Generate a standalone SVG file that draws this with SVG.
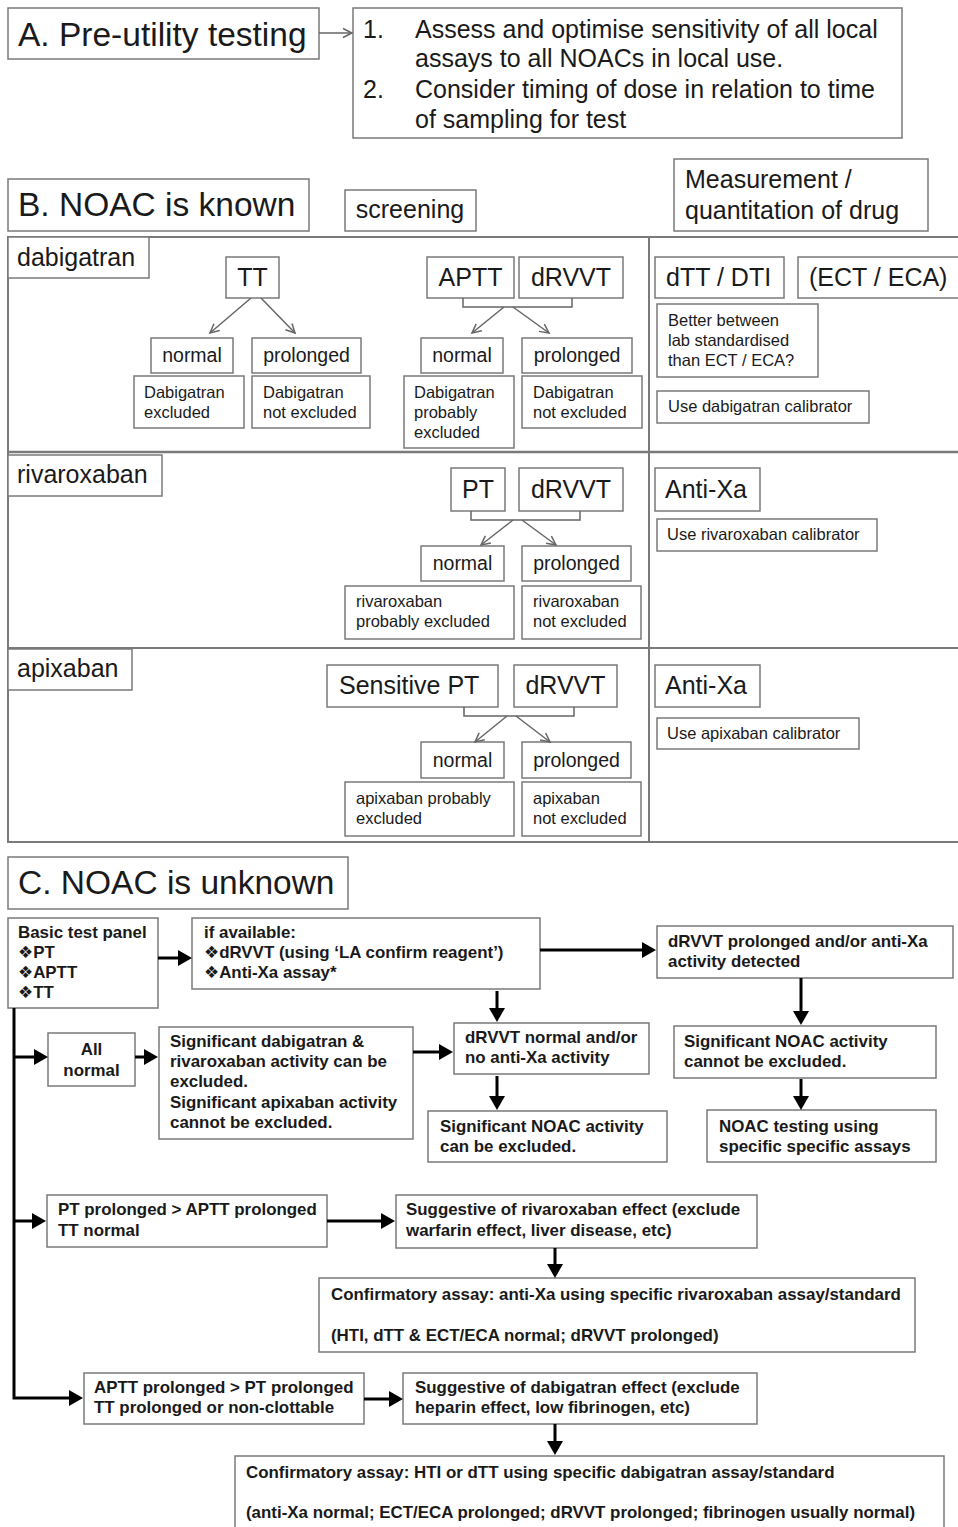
<svg xmlns="http://www.w3.org/2000/svg" width="958" height="1527" viewBox="0 0 958 1527">
<style>
text{font-family:"Liberation Sans","DejaVu Sans",Arial,sans-serif;fill:#1a1a1a}
.bx{fill:#fff;stroke:#7a7a7a;stroke-width:1.5}
.h1{font-size:33.5px}
.h2{font-size:25px}
.t19{font-size:19.5px}
.s{font-size:16.5px}
.b{font-size:16.9px;font-weight:bold}
.c{text-anchor:middle}
.dv{stroke:#7a7a7a;stroke-width:2;fill:none}
.thin{stroke:#666;stroke-width:1.5;fill:none;marker-end:url(#oa)}
.brk{stroke:#666;stroke-width:1.5;fill:none}
.ta{stroke:#000;stroke-width:3;fill:none;marker-end:url(#fa)}
</style>
<defs>
<marker id="fa" markerUnits="userSpaceOnUse" markerWidth="16" markerHeight="18" refX="3" refY="8" orient="auto" overflow="visible"><path d="M0,0 L14,8 L0,16 z" fill="#000"/></marker>
<marker id="oa" markerUnits="userSpaceOnUse" markerWidth="12" markerHeight="12" refX="9" refY="4.5" orient="auto" overflow="visible"><path d="M0,0 L9,4.5 L0,9" fill="none" stroke="#666" stroke-width="1.5"/></marker>
</defs>

<!-- Section A -->
<g id="a-title"><rect class="bx" x="8" y="8" width="311" height="51"/><text class="h1" x="18" y="46">A. Pre-utility testing</text></g>
<g id="a-steps"><rect class="bx" x="353" y="8" width="549" height="130"/>
<text class="h2" x="363" y="38">1.</text><text class="h2" x="415" y="38">Assess and optimise sensitivity of all local</text>
<text class="h2" x="415" y="67">assays to all NOACs in local use.</text>
<text class="h2" x="363" y="98">2.</text><text class="h2" x="415" y="98">Consider timing of dose in relation to time</text>
<text class="h2" x="415" y="128">of sampling for test</text></g>

<!-- Section B frame -->
<g id="b-frame">
<path class="dv" d="M958,237 H8 V842 H958"/>
<path class="dv" d="M8,452 H958" style="stroke-width:2.5"/>
<path class="dv" d="M8,648 H958"/>
<path class="dv" d="M649,237 V842"/>
</g>
<g id="b-title"><rect class="bx" x="8" y="179" width="301" height="52"/><text class="h1" x="18" y="216">B. NOAC is known</text></g>
<g id="b-screening"><rect class="bx" x="345" y="190" width="131" height="41"/><text class="h2 c" x="410" y="218">screening</text></g>
<g id="b-measure"><rect class="bx" x="674" y="159" width="254" height="72"/><text class="h2" x="685" y="188">Measurement /</text><text class="h2" x="685" y="219">quantitation of drug</text></g>

<!-- dabigatran -->
<g id="dab-label"><rect class="bx" x="8" y="237" width="141" height="41"/><text class="h2" x="17" y="266">dabigatran</text></g>
<g id="dab-tt"><rect class="bx" x="226" y="257" width="53" height="41"/><text class="h2 c" x="252.5" y="286">TT</text></g>
<g id="dab-tt-normal"><rect class="bx" x="151" y="338" width="82" height="35"/><text class="t19 c" x="192" y="362">normal</text></g>
<g id="dab-tt-prolonged"><rect class="bx" x="252" y="338" width="109" height="35"/><text class="t19 c" x="306.5" y="362">prolonged</text></g>
<g id="dab-tt-excl"><rect class="bx" x="134" y="376" width="110" height="52"/><text class="s" x="144" y="398">Dabigatran</text><text class="s" x="144" y="418">excluded</text></g>
<g id="dab-tt-notexcl"><rect class="bx" x="252" y="376" width="118" height="52"/><text class="s" x="263" y="398">Dabigatran</text><text class="s" x="263" y="418">not excluded</text></g>
<g id="dab-aptt"><rect class="bx" x="427" y="257" width="87" height="41"/><text class="h2 c" x="470.5" y="286">APTT</text></g>
<g id="dab-drvvt"><rect class="bx" x="519" y="257" width="104" height="41"/><text class="h2 c" x="571" y="286">dRVVT</text></g>
<g id="dab-a-normal"><rect class="bx" x="421" y="338" width="82" height="35"/><text class="t19 c" x="462" y="362">normal</text></g>
<g id="dab-a-prolonged"><rect class="bx" x="522" y="338" width="110" height="35"/><text class="t19 c" x="577" y="362">prolonged</text></g>
<g id="dab-a-probexcl"><rect class="bx" x="404" y="376" width="110" height="72"/><text class="s" x="414" y="398">Dabigatran</text><text class="s" x="414" y="418">probably</text><text class="s" x="414" y="438">excluded</text></g>
<g id="dab-a-notexcl"><rect class="bx" x="522" y="376" width="120" height="52"/><text class="s" x="533" y="398">Dabigatran</text><text class="s" x="533" y="418">not excluded</text></g>
<g id="dab-dtt"><rect class="bx" x="655" y="257" width="129" height="41"/><text class="h2" x="666" y="286">dTT / DTI</text></g>
<g id="dab-ect"><rect class="bx" x="798" y="257" width="170" height="41"/><text class="h2" x="809" y="286">(ECT / ECA)</text></g>
<g id="dab-better"><rect class="bx" x="657" y="304" width="161" height="73"/><text class="s" x="668" y="326">Better between</text><text class="s" x="668" y="346">lab standardised</text><text class="s" x="668" y="366">than ECT / ECA?</text></g>
<g id="dab-cal"><rect class="bx" x="657" y="391" width="212" height="32"/><text class="s" x="668" y="412">Use dabigatran calibrator</text></g>

<!-- rivaroxaban -->
<g id="riv-label"><rect class="bx" x="8" y="455" width="154" height="41"/><text class="h2" x="17" y="483">rivaroxaban</text></g>
<g id="riv-pt"><rect class="bx" x="451" y="468" width="54" height="43"/><text class="h2 c" x="478" y="498">PT</text></g>
<g id="riv-drvvt"><rect class="bx" x="519" y="468" width="104" height="43"/><text class="h2 c" x="571" y="498">dRVVT</text></g>
<g id="riv-normal"><rect class="bx" x="421" y="546" width="83" height="35"/><text class="t19 c" x="462.5" y="570">normal</text></g>
<g id="riv-prolonged"><rect class="bx" x="522" y="546" width="109" height="35"/><text class="t19 c" x="576.5" y="570">prolonged</text></g>
<g id="riv-probexcl"><rect class="bx" x="345" y="586" width="169" height="53"/><text class="s" x="356" y="607">rivaroxaban</text><text class="s" x="356" y="627">probably excluded</text></g>
<g id="riv-notexcl"><rect class="bx" x="522" y="586" width="119" height="53"/><text class="s" x="533" y="607">rivaroxaban</text><text class="s" x="533" y="627">not excluded</text></g>
<g id="riv-antixa"><rect class="bx" x="655" y="468" width="105" height="43"/><text class="h2" x="665" y="498">Anti-Xa</text></g>
<g id="riv-cal"><rect class="bx" x="657" y="519" width="220" height="32"/><text class="s" x="667" y="540">Use rivaroxaban calibrator</text></g>

<!-- apixaban -->
<g id="api-label"><rect class="bx" x="8" y="649" width="124" height="41"/><text class="h2" x="17" y="677">apixaban</text></g>
<g id="api-pt"><rect class="bx" x="327" y="665" width="171" height="42"/><text class="h2" x="339" y="694">Sensitive PT</text></g>
<g id="api-drvvt"><rect class="bx" x="514" y="665" width="103" height="42"/><text class="h2 c" x="565.5" y="694">dRVVT</text></g>
<g id="api-normal"><rect class="bx" x="421" y="742" width="83" height="36"/><text class="t19 c" x="462.5" y="767">normal</text></g>
<g id="api-prolonged"><rect class="bx" x="522" y="742" width="109" height="36"/><text class="t19 c" x="576.5" y="767">prolonged</text></g>
<g id="api-probexcl"><rect class="bx" x="345" y="782" width="169" height="54"/><text class="s" x="356" y="804">apixaban probably</text><text class="s" x="356" y="824">excluded</text></g>
<g id="api-notexcl"><rect class="bx" x="522" y="782" width="119" height="54"/><text class="s" x="533" y="804">apixaban</text><text class="s" x="533" y="824">not excluded</text></g>
<g id="api-antixa"><rect class="bx" x="655" y="665" width="105" height="42"/><text class="h2" x="665" y="694">Anti-Xa</text></g>
<g id="api-cal"><rect class="bx" x="657" y="718" width="202" height="31"/><text class="s" x="667" y="739">Use apixaban calibrator</text></g>

<!-- Section C -->
<g id="c-title"><rect class="bx" x="8" y="857" width="340" height="52"/><text class="h1" x="18" y="894">C. NOAC is unknown</text></g>
<g id="c-basic"><rect class="bx" x="8" y="918" width="150" height="90"/><text class="b" x="18" y="938">Basic test panel</text><text class="b" x="18" y="958">❖PT</text><text class="b" x="18" y="978">❖APTT</text><text class="b" x="18" y="998">❖TT</text></g>
<g id="c-ifavail"><rect class="bx" x="192" y="918" width="348" height="71"/><text class="b" x="204" y="938">if available:</text><text class="b" x="204" y="958">❖dRVVT (using ‘LA confirm reagent’)</text><text class="b" x="204" y="978">❖Anti-Xa assay*</text></g>
<g id="c-drvvtprol"><rect class="bx" x="657" y="926" width="296" height="52"/><text class="b" x="668" y="947">dRVVT prolonged and/or anti-Xa</text><text class="b" x="668" y="967">activity detected</text></g>
<g id="c-allnormal"><rect class="bx" x="48" y="1033" width="87" height="53"/><text class="b c" x="91.5" y="1055">All</text><text class="b c" x="91.5" y="1076">normal</text></g>
<g id="c-sigdab"><rect class="bx" x="159" y="1027" width="254" height="112"/><text class="b" x="170" y="1047">Significant dabigatran &amp;</text><text class="b" x="170" y="1067">rivaroxaban activity can be</text><text class="b" x="170" y="1087">excluded.</text><text class="b" x="170" y="1108">Significant apixaban activity</text><text class="b" x="170" y="1128">cannot be excluded.</text></g>
<g id="c-drvvtnorm"><rect class="bx" x="454" y="1023" width="195" height="51"/><text class="b" x="465" y="1043">dRVVT normal and/or</text><text class="b" x="465" y="1063">no anti-Xa activity</text></g>
<g id="c-sigcan"><rect class="bx" x="428" y="1111" width="239" height="51"/><text class="b" x="440" y="1132">Significant NOAC activity</text><text class="b" x="440" y="1152">can be excluded.</text></g>
<g id="c-sigcannot"><rect class="bx" x="674" y="1026" width="262" height="52"/><text class="b" x="684" y="1047">Significant NOAC activity</text><text class="b" x="684" y="1067">cannot be excluded.</text></g>
<g id="c-noactest"><rect class="bx" x="707" y="1110" width="229" height="52"/><text class="b" x="719" y="1132">NOAC testing using</text><text class="b" x="719" y="1152">specific specific assays</text></g>
<g id="c-ptprol"><rect class="bx" x="47" y="1195" width="280" height="52"/><text class="b" x="58" y="1215">PT prolonged &gt; APTT prolonged</text><text class="b" x="58" y="1236">TT normal</text></g>
<g id="c-sugriv"><rect class="bx" x="396" y="1195" width="361" height="53"/><text class="b" x="406" y="1215">Suggestive of rivaroxaban effect (exclude</text><text class="b" x="406" y="1236">warfarin effect, liver disease, etc)</text></g>
<g id="c-confriv"><rect class="bx" x="319" y="1278" width="596" height="74"/><text class="b" x="331" y="1300">Confirmatory assay: anti-Xa using specific rivaroxaban assay/standard</text><text class="b" x="331" y="1341">(HTI, dTT &amp; ECT/ECA normal; dRVVT prolonged)</text></g>
<g id="c-apttprol"><rect class="bx" x="84" y="1373" width="280" height="51"/><text class="b" x="94" y="1393">APTT prolonged &gt; PT prolonged</text><text class="b" x="94" y="1413">TT prolonged or non-clottable</text></g>
<g id="c-sugdab"><rect class="bx" x="403" y="1373" width="354" height="51"/><text class="b" x="415" y="1393">Suggestive of dabigatran effect (exclude</text><text class="b" x="415" y="1413">heparin effect, low fibrinogen, etc)</text></g>
<g id="c-confdab"><rect class="bx" x="235" y="1456" width="709" height="90"/><text class="b" x="246" y="1478">Confirmatory assay: HTI or dTT using specific dabigatran assay/standard</text><text class="b" x="246" y="1518">(anti-Xa normal; ECT/ECA prolonged; dRVVT prolonged; fibrinogen usually normal)</text></g>

<!-- connectors -->
<g id="connectors">
<line class="thin" x1="319" y1="33" x2="352" y2="33"/>
<line class="thin" x1="251" y1="298" x2="210" y2="333"/>
<line class="thin" x1="261" y1="298" x2="295" y2="333"/>
<path class="brk" d="M463,298 V307 H572 V298"/>
<line class="thin" x1="504" y1="307" x2="472" y2="333"/>
<line class="thin" x1="513" y1="307" x2="549" y2="333"/>
<path class="brk" d="M471,511 V520 H580 V511"/>
<line class="thin" x1="513" y1="520" x2="481" y2="545"/>
<line class="thin" x1="522" y1="520" x2="556" y2="545"/>
<path class="brk" d="M464,707 V716 H574 V707"/>
<line class="thin" x1="507" y1="716" x2="475" y2="742"/>
<line class="thin" x1="516" y1="716" x2="550" y2="742"/>

<line class="ta" x1="158" y1="958" x2="181" y2="958"/>
<line class="ta" x1="540" y1="950" x2="645" y2="950"/>
<line class="ta" x1="497" y1="991" x2="497" y2="1011"/>
<path class="ta" d="M14,1008 V1398 H72"/>
<line class="ta" x1="14" y1="1057" x2="37" y2="1057"/>
<line class="ta" x1="135" y1="1057" x2="147" y2="1057"/>
<line class="ta" x1="413" y1="1052" x2="442" y2="1052"/>
<line class="ta" x1="497" y1="1076" x2="497" y2="1099"/>
<line class="ta" x1="801" y1="978" x2="801" y2="1014"/>
<line class="ta" x1="801" y1="1079" x2="801" y2="1099"/>
<line class="ta" x1="14" y1="1221" x2="35" y2="1221"/>
<line class="ta" x1="327" y1="1221" x2="384" y2="1221"/>
<line class="ta" x1="555" y1="1248" x2="555" y2="1267"/>
<line class="ta" x1="364" y1="1399" x2="392" y2="1399"/>
<line class="ta" x1="555" y1="1424" x2="555" y2="1444"/>
</g>
</svg>
